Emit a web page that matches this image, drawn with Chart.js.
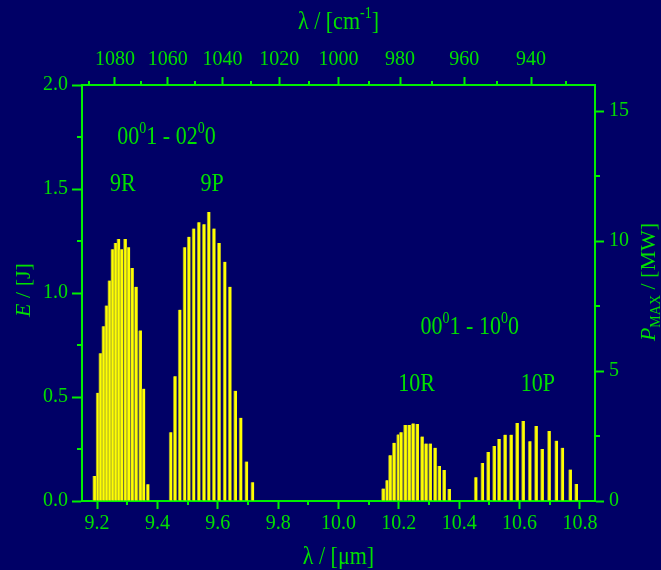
<!DOCTYPE html>
<html><head><meta charset="utf-8">
<script src="https://cdn.jsdelivr.net/npm/chart.js@4"></script>
<style>html,body{margin:0;padding:0;background:#000066;}canvas{display:block;}</style>
</head><body>
<canvas id="c" width="661" height="570"></canvas>
<script>
// ---- data ----
const band9R_wavelength = [9.191, 9.202, 9.211, 9.221, 9.231, 9.241, 9.251, 9.261, 9.271, 9.281, 9.293, 9.304, 9.316, 9.329, 9.343, 9.354, 9.368];
const band9R_energy     = [0.12, 0.52, 0.71, 0.84, 0.94, 1.06, 1.21, 1.24, 1.26, 1.21, 1.26, 1.22, 1.12, 1.03, 0.82, 0.54, 0.08];
const band9P_wavelength = [9.444, 9.458, 9.474, 9.490, 9.504, 9.520, 9.537, 9.554, 9.570, 9.587, 9.604, 9.623, 9.640, 9.658, 9.676, 9.695, 9.715];
const band9P_energy     = [0.33, 0.60, 0.92, 1.22, 1.27, 1.31, 1.34, 1.33, 1.39, 1.31, 1.24, 1.15, 1.03, 0.53, 0.40, 0.19, 0.09];
const band10R_wavelength = [10.148, 10.161, 10.171, 10.184, 10.198, 10.207, 10.221, 10.234, 10.247, 10.261, 10.277, 10.290, 10.304, 10.320, 10.334, 10.350, 10.367];
const band10R_energy     = [0.06, 0.10, 0.22, 0.28, 0.32, 0.33, 0.365, 0.365, 0.373, 0.37, 0.31, 0.276, 0.276, 0.256, 0.168, 0.149, 0.058];
const band10P_wavelength = [10.455, 10.477, 10.496, 10.516, 10.532, 10.552, 10.572, 10.592, 10.612, 10.634, 10.655, 10.675, 10.698, 10.722, 10.742, 10.768, 10.788];
const band10P_energy     = [0.114, 0.183, 0.236, 0.264, 0.298, 0.319, 0.319, 0.375, 0.385, 0.287, 0.36, 0.25, 0.337, 0.29, 0.256, 0.151, 0.082];

const bottomTickValues = [9.2, 9.4, 9.6, 9.8, 10.0, 10.2, 10.4, 10.6, 10.8];
const bottomMinorTicks = [9.3, 9.5, 9.7, 9.9, 10.1, 10.3, 10.5, 10.7];
const leftTickValues = [0, 0.5, 1.0, 1.5, 2.0];
const leftMinorTicks = [0.25, 0.75, 1.25, 1.75];
const rightTickValues = [0, 5, 10, 15];
const rightMinorTicks = [2.5, 7.5, 12.5];
const topTickWavenumbers = [1080, 1060, 1040, 1020, 1000, 980, 960, 940];
const topMinorWavenumbers = [1090, 1070, 1050, 1030, 1010, 990, 970, 950, 930];

// ---- styles ----
const BG = '#000066';
const LINE = '#00f000';
const TEXT = '#00e000';
const FONT = '"Liberation Serif", "Times New Roman", serif';

function bars(wl, e) {
  return {
    data: wl.map((w, i) => ({x: w, y: e[i]})),
    xAxisID: 'x', yAxisID: 'y',
    backgroundColor: '#ffff00',
    borderColor: '#8a8a3a',
    borderWidth: {left: 1, top: 0, right: 0, bottom: 0},
    borderSkipped: false,
    barThickness: 3.4,
    grouped: false
  };
}

function drawRich(ctx, runs, x, y, size, rotate, stretch) {
  ctx.save();
  ctx.translate(x, y);
  if (rotate) ctx.rotate(rotate);
  if (stretch) ctx.scale(1, stretch);
  ctx.textBaseline = 'alphabetic';
  ctx.textAlign = 'left';
  const fontOf = r => `${r.italic ? 'italic ' : ''}${(r.sup || r.sub) ? Math.round(size * 0.65) : size}px ${FONT}`;
  let total = 0;
  runs.forEach(r => { ctx.font = fontOf(r); r.w = ctx.measureText(r.t).width; total += r.w; });
  let cx = -total / 2;
  ctx.fillStyle = TEXT;
  runs.forEach(r => {
    ctx.font = fontOf(r);
    const dy = r.sup ? -size * 0.45 : (r.sub ? size * 0.22 : 0);
    ctx.fillText(r.t, cx, dy);
    cx += r.w;
  });
  ctx.restore();
}

const minorPlugin = {
  id: 'minorTicks',
  afterDraw(chart) {
    const ctx = chart.ctx, a = chart.chartArea, s = chart.scales;
    ctx.save();
    ctx.strokeStyle = LINE;
    ctx.lineWidth = 2;
    ctx.beginPath();
    bottomMinorTicks.forEach(v => { const p = Math.round(s.x.getPixelForValue(v)); ctx.moveTo(p, a.bottom); ctx.lineTo(p, a.bottom + 4); });
    topMinorWavenumbers.forEach(k => { const p = Math.round(s.x2.getPixelForValue(10000 / k)); ctx.moveTo(p, a.top); ctx.lineTo(p, a.top - 4); });
    leftMinorTicks.forEach(v => { const p = Math.round(s.y.getPixelForValue(v)); ctx.moveTo(a.left, p); ctx.lineTo(a.left - 5, p); });
    rightMinorTicks.forEach(v => { const p = Math.round(s.y2.getPixelForValue(v)); ctx.moveTo(a.right, p); ctx.lineTo(a.right + 5, p); });
    ctx.stroke();
    ctx.restore();
  }
};

const textPlugin = {
  id: 'texts',
  afterDraw(chart) {
    const ctx = chart.ctx, a = chart.chartArea, s = chart.scales;
    const X = v => s.x.getPixelForValue(v), Y = v => s.y.getPixelForValue(v);
    const cx = (a.left + a.right) / 2;
    const st = 1.12;
    // axis titles
    drawRich(ctx, [{t: 'λ / [μm]'}], cx, 564, 22, 0, st);
    drawRich(ctx, [{t: 'λ / [cm'}, {t: '-1', sup: true}, {t: ']'}], cx, 29, 22, 0, st);
    drawRich(ctx, [{t: 'E', italic: true}, {t: ' / [J]'}], 30, 290, 22, -Math.PI / 2);
    drawRich(ctx, [{t: 'P', italic: true}, {t: 'MAX', sub: true}, {t: ' / [MW]'}], 655, 282, 22, -Math.PI / 2);
    // annotations
    drawRich(ctx, [{t: '00'}, {t: '0', sup: true}, {t: '1 - 02'}, {t: '0', sup: true}, {t: '0'}], X(9.43), Y(1.716), 22, 0, st);
    drawRich(ctx, [{t: '9R'}], X(9.285), Y(1.49), 22, 0, st);
    drawRich(ctx, [{t: '9P'}], X(9.581), Y(1.49), 22, 0, st);
    drawRich(ctx, [{t: '00'}, {t: '0', sup: true}, {t: '1 - 10'}, {t: '0', sup: true}, {t: '0'}], X(10.435), Y(0.803), 22, 0, st);
    drawRich(ctx, [{t: '10R'}], X(10.259), Y(0.529), 22, 0, st);
    drawRich(ctx, [{t: '10P'}], X(10.661), Y(0.529), 22, 0, st);
  }
};

const bgPlugin = {
  id: 'bg',
  beforeDraw(chart) {
    const ctx = chart.ctx;
    ctx.save();
    ctx.fillStyle = BG;
    ctx.fillRect(0, 0, chart.width, chart.height);
    ctx.restore();
  }
};

function axis(extra) {
  return Object.assign({
    type: 'linear',
    offset: false,
    grid: {display: true, drawOnChartArea: false, drawTicks: true, tickColor: LINE, tickWidth: 2, offset: false},
    border: {display: true, color: LINE, width: 2},
    ticks: {color: TEXT, font: {family: FONT, size: 20}, autoSkip: false, maxRotation: 0, minRotation: 0}
  }, extra);
}

const xBottom = axis({position: 'bottom', min: 9.15, max: 10.85,
  afterBuildTicks: sc => { sc.ticks = bottomTickValues.map(v => ({value: v})); },
  afterFit: sc => { sc.height = 69; }});
xBottom.grid.tickLength = 8; xBottom.ticks.padding = 3; xBottom.ticks.callback = v => v.toFixed(1);

const xTop = axis({position: 'top', min: 9.15, max: 10.85,
  afterBuildTicks: sc => { sc.ticks = topTickWavenumbers.map(k => ({value: 10000 / k})); },
  afterFit: sc => { sc.height = 85; }});
xTop.grid.tickLength = 8; xTop.ticks.padding = 5; xTop.ticks.callback = (v, i) => String(topTickWavenumbers[i]);

const yLeft = axis({position: 'left', min: 0, max: 2,
  afterBuildTicks: sc => { sc.ticks = leftTickValues.map(v => ({value: v})); },
  afterFit: sc => { sc.width = 82; }});
yLeft.grid.tickLength = 10; yLeft.ticks.padding = 4; yLeft.ticks.callback = v => v.toFixed(1);

const yRight = axis({position: 'right', min: 0, max: 16,
  afterBuildTicks: sc => { sc.ticks = rightTickValues.map(v => ({value: v})); },
  afterFit: sc => { sc.width = 66; }});
yRight.grid.tickLength = 9; yRight.ticks.padding = 5; yRight.ticks.callback = v => String(v);

new Chart(document.getElementById('c'), {
  type: 'bar',
  data: {
    datasets: [
      bars(band9R_wavelength, band9R_energy),
      bars(band9P_wavelength, band9P_energy),
      bars(band10R_wavelength, band10R_energy),
      bars(band10P_wavelength, band10P_energy)
    ]
  },
  options: {
    responsive: false,
    animation: false,
    layout: {padding: 0},
    plugins: {legend: {display: false}, tooltip: {enabled: false}, title: {display: false}},
    scales: {x: xBottom, x2: xTop, y: yLeft, y2: yRight}
  },
  plugins: [bgPlugin, minorPlugin, textPlugin]
});
</script>
</body></html>
